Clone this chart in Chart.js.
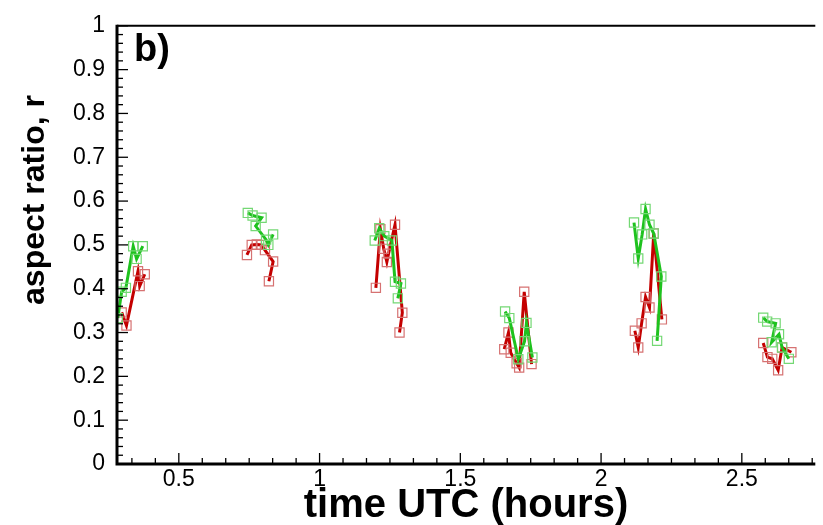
<!DOCTYPE html>
<html>
<head>
<meta charset="utf-8">
<script src="https://cdn.jsdelivr.net/npm/chart.js@4"></script>
<style>
html,body{margin:0;padding:0;background:#fff;}
#wrap{width:823px;height:525px;position:relative;}
</style>
</head>
<body>
<div id="wrap"><canvas id="c" width="823" height="525"></canvas></div>
<script>
// ---- data (time UTC in hours, aspect ratio r); null breaks lines between passes ----
const greenTime = [0.283,0.297,0.312,0.338,0.350,0.372, null,
  0.745,0.762,0.794,0.773,0.810,0.818,0.835, null,
  1.196,1.212,1.230,1.257,1.268,1.289,1.278, null,
  1.659,1.674,1.706,1.728,1.735,1.756, null,
  2.117,2.132,2.146,2.158,2.172,2.187,2.214,2.199, null,
  2.576,2.590,2.620,2.606,2.632,2.643,2.667];
const greenRatio = [0.333,0.393,0.402,0.497,0.468,0.497, null,
  0.573,0.567,0.562,0.543,0.512,0.500,0.524, null,
  0.510,0.538,0.520,0.510,0.416,0.412,0.378, null,
  0.348,0.333,0.239,0.280,0.322,0.243, null,
  0.551,0.469,0.524,0.582,0.546,0.526,0.428,0.281, null,
  0.334,0.325,0.321,0.278,0.296,0.266,0.240];
const redTime = [0.297,0.314,0.355,0.361,0.379, null,
  0.742,0.759,0.777,0.794,0.806,0.835,0.820, null,
  1.200,1.216,1.228,1.239,1.245,1.268,1.294,1.284, null,
  1.656,1.671,1.679,1.700,1.709,1.727,1.753, null,
  2.120,2.132,2.144,2.158,2.172,2.187,2.216, null,
  2.576,2.591,2.608,2.629,2.643,2.676];
const redRatio = [0.346,0.316,0.440,0.406,0.433, null,
  0.477,0.500,0.501,0.500,0.488,0.462,0.417, null,
  0.402,0.536,0.491,0.461,0.480,0.546,0.345,0.300, null,
  0.262,0.300,0.254,0.230,0.220,0.393,0.228, null,
  0.304,0.266,0.321,0.381,0.357,0.526,0.330, null,
  0.276,0.244,0.240,0.214,0.266,0.255];
const xTicks = [0.5, 1, 1.5, 2, 2.5];
const xTickLabels = ['0.5','1','1.5','2','2.5'];
const yTicks = [0,0.1,0.2,0.3,0.4,0.5,0.6,0.7,0.8,0.9,1];
const yTickLabels = ['0','0.1','0.2','0.3','0.4','0.5','0.6','0.7','0.8','0.9','1'];
const xTitle = 'time UTC (hours)';
const yTitle = 'aspect ratio, r';
const panelLabel = 'b)';

function pts(xs, ys){ return xs.map((x,i)=>({x:x===null?NaN:x, y:ys[i]})); }

const FONT = "'Liberation Sans', Arial, Helvetica, sans-serif";

const framePlugin = {
  id:'frame',
  afterDraw(chart){
    const {ctx, chartArea:a, scales:{x, y}} = chart;
    ctx.save();
    ctx.strokeStyle = '#000';
    ctx.lineWidth = 1.3;
    for(let v=0; v<=1.0001; v+=0.02){
      const py = y.getPixelForValue(v);
      const major = Math.abs(v*10 - Math.round(v*10)) < 1e-6;
      ctx.beginPath(); ctx.moveTo(a.left, py); ctx.lineTo(a.left + (major?11:6), py); ctx.stroke();
    }
    for(let k=0; k<60; k++){
      const v = k/12;
      if (v < x.min || v > x.max) continue;
      const px = x.getPixelForValue(v);
      const major = k % 6 === 0;
      ctx.beginPath(); ctx.moveTo(px, a.bottom); ctx.lineTo(px, a.bottom - (major?11:6)); ctx.stroke();
    }
    ctx.lineWidth = 2;
    ctx.beginPath(); ctx.moveTo(a.left, a.top); ctx.lineTo(a.right, a.top); ctx.stroke();
    ctx.lineWidth = 3;
    ctx.beginPath(); ctx.moveTo(a.left, a.top-1); ctx.lineTo(a.left, a.bottom); ctx.lineTo(a.right, a.bottom); ctx.stroke();
    ctx.fillStyle = '#000';
    ctx.font = "bold 40px " + FONT;
    ctx.textAlign = 'center'; ctx.textBaseline = 'alphabetic';
    ctx.fillText(xTitle, 466, 517);
    ctx.save();
    ctx.translate(44, 200); ctx.rotate(-Math.PI/2);
    ctx.font = "bold 32px " + FONT;
    ctx.fillText(yTitle, 0, 0);
    ctx.restore();
    ctx.font = "bold 38px " + FONT;
    ctx.textAlign = 'left';
    ctx.fillText(panelLabel, 134, 61);
    ctx.restore();
  }
};

const common = {showLine:true, spanGaps:false, pointStyle:'rect', pointRadius:6.5, pointHoverRadius:6.5,
  pointBorderWidth:1.2, pointBackgroundColor:'rgba(255,255,255,0)', borderWidth:3, tension:0};

new Chart(document.getElementById('c'), {
  type:'scatter',
  data:{datasets:[
    Object.assign({label:'green', data:pts(greenTime, greenRatio), borderColor:'#1ec21e', pointBorderColor:'#74d874'}, common),
    Object.assign({label:'red', data:pts(redTime, redRatio), borderColor:'#c40000', pointBorderColor:'#d67272'}, common)
  ]},
  options:{
    responsive:false, animation:false, devicePixelRatio:1,
    layout:{padding:{top:18, right:0, left:0, bottom:0}},
    plugins:{legend:{display:false}, tooltip:{enabled:false}},
    scales:{
      x:{type:'linear', min:0.2804, max:2.761,
        grid:{display:false, drawTicks:false}, border:{display:false},
        afterFit(s){ s.height = 61; },
        afterBuildTicks(s){ s.ticks = xTicks.map(v=>({value:v})); },
        ticks:{autoSkip:false, maxRotation:0, padding:2, color:'#000',
          font:{family:FONT, size:23},
          callback:(v)=>{ const i = xTicks.indexOf(v); return i>=0 ? xTickLabels[i] : ''; }}
      },
      y:{type:'linear', min:0, max:1,
        grid:{display:false, drawTicks:false}, border:{display:false},
        afterFit(s){ s.width = 117; },
        afterBuildTicks(s){ s.ticks = yTicks.map(v=>({value:v})); },
        ticks:{autoSkip:false, padding:12, color:'#000',
          font:{family:FONT, size:23},
          callback:(v)=>{ const i = yTicks.findIndex(t=>Math.abs(t-v)<1e-9); return i>=0 ? yTickLabels[i] : ''; }}
      }
    }
  },
  plugins:[framePlugin]
});
</script>
</body>
</html>
